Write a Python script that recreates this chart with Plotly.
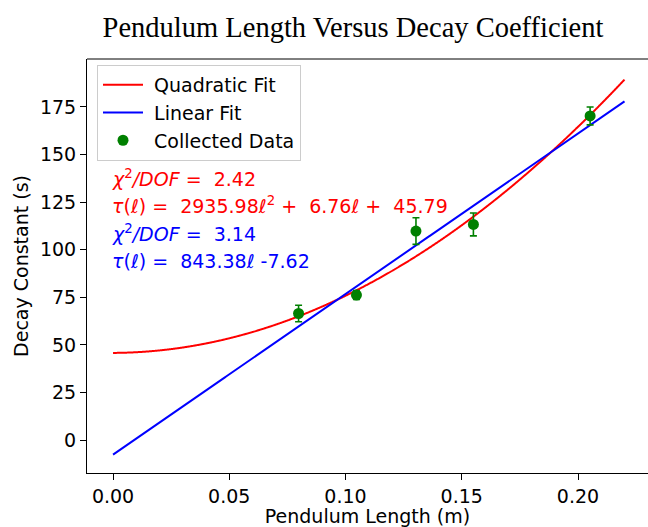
import numpy as np
import plotly.graph_objects as go

# ---- data ----
lengths = [0.0798, 0.1047, 0.1303, 0.1550, 0.2052]      # m
decay = [66.5, 76.2, 109.8, 113.3, 170.3]               # s
decay_err = [4.3, 2.3, 7.0, 6.0, 4.7]
length_err = [0.001, 0.001, 0.001, 0.001, 0.001]

quad_coef = [2935.98, 6.76, 45.79]    # a*l^2 + b*l + c
lin_coef = [843.38, -7.62]            # m*l + b
chi2_quad = 2.42
chi2_lin = 3.14
fit_span = [0.0, 0.22]

xs = np.linspace(fit_span[0], fit_span[1], 600)
y_quad = np.polyval(quad_coef, xs)
y_lin = np.polyval(lin_coef, xs)

FONT = "DejaVu Sans"
FS = 19
fig = go.Figure()
fig.add_trace(go.Scatter(x=xs, y=y_quad, mode="lines", name=" Quadratic Fit",
                         line=dict(color="#ff0000", width=2, shape="spline")))
fig.add_trace(go.Scatter(x=xs, y=y_lin, mode="lines", name=" Linear Fit",
                         line=dict(color="#0000ff", width=2)))
fig.add_trace(go.Scatter(x=lengths, y=decay, mode="markers", name=" Collected Data",
                         marker=dict(color="#008000", size=11),
                         error_y=dict(type="data", array=decay_err, color="#008000",
                                      thickness=1.6, width=3.5),
                         error_x=dict(type="data", array=length_err, color="#008000",
                                      thickness=1.6, width=3.5)))

W, H = 648, 527
L, R, T, B = 87, 0, 59, 54
xr = [-0.0112, 0.2301]
yr = [-17.3, 200.2]

fig.update_layout(
    width=W, height=H,
    margin=dict(l=L, r=R, t=T, b=B),
    paper_bgcolor="white", plot_bgcolor="white",
    font=dict(family=FONT, size=FS, color="#000000"),
    showlegend=True,
    legend=dict(x=(97 - L) / (W - L - R), y=1 - (65 - T) / (H - T - B),
                xanchor="left", yanchor="top",
                bgcolor="rgba(255,255,255,0.8)", bordercolor="#cccccc", borderwidth=1,
                font=dict(family=FONT, size=FS, color="#000000"),
                tracegroupgap=0, itemwidth=40),
    title=dict(text="Pendulum Length Versus Decay Coefficient",
               x=353 / W, xref="container", xanchor="center",
               y=1 - 27 / H, yref="container", yanchor="middle",
               font=dict(family="Liberation Serif", size=28.5, color="#000000")),
)
fig.update_xaxes(range=xr, showgrid=False, zeroline=False,
                 showline=True, linecolor="black", linewidth=1,
                 ticks="outside", ticklen=6, tickcolor="black",
                 tickvals=[0, 0.05, 0.10, 0.15, 0.20],
                 ticktext=["0.00", "0.05", "0.10", "0.15", "0.20"],
                 tickfont=dict(size=FS),
                 title=dict(text="Pendulum Length (m)", standoff=2,
                            font=dict(size=FS)))
fig.update_yaxes(range=yr, showgrid=False, zeroline=False,
                 showline=True, linecolor="black", linewidth=1,
                 ticks="outside", ticklen=6, tickcolor="black",
                 tickvals=[0, 25, 50, 75, 100, 125, 150, 175],
                 tickfont=dict(size=FS),
                 title=dict(text="Decay Constant (s)", standoff=6,
                            font=dict(size=FS)))
# top spine
fig.add_shape(type="line", xref="paper", yref="paper", x0=0, x1=1, y0=1, y1=1,
              line=dict(color="black", width=1))

ann_lines = [
    ("<i>χ</i><sup>2</sup><i>/DOF</i> =  %.2f" % chi2_quad, "#ff0000", 178),
    ("<i>τ</i>(<i>ℓ</i>) =  %.2f<i>ℓ</i><sup>2</sup> +  %.2f<i>ℓ</i> +  %.2f"
     % (quad_coef[0], quad_coef[1], quad_coef[2]), "#ff0000", 205),
    ("<i>χ</i><sup>2</sup><i>/DOF</i> =  %.2f" % chi2_lin, "#0000ff", 233),
    ("<i>τ</i>(<i>ℓ</i>) =  %.2f<i>ℓ</i> %.2f" % (lin_coef[0], lin_coef[1]), "#0000ff", 261),
]
for txt, col, ypix in ann_lines:
    fig.add_annotation(text=txt, xref="x", x=0, xanchor="left", xshift=-3,
                       yref="paper", y=1 - (ypix - T) / (H - T - B), yanchor="middle",
                       showarrow=False, font=dict(family=FONT, size=FS, color=col))

fig.write_html("out.html")
